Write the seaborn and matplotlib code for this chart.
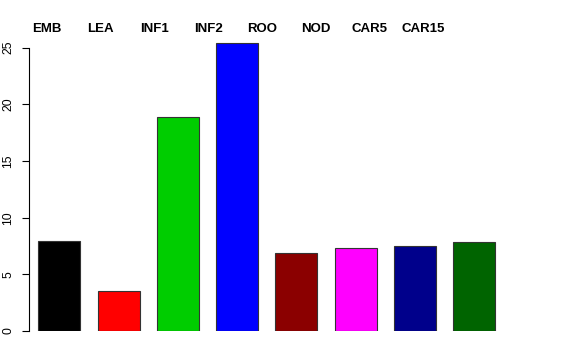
import matplotlib
matplotlib.use("Agg")
import matplotlib.pyplot as plt
import seaborn as sns
import pandas as pd

categories = ["EMB", "LEA", "INF1", "INF2", "ROO", "NOD", "CAR5", "CAR15"]
values = [7.93, 3.55, 18.9, 25.4, 6.9, 7.29, 7.46, 7.87]
colors = ["#000000", "#FF0000", "#00CD00", "#0000FF", "#8B0000", "#FF00FF", "#00008B", "#006400"]
yticks = [0, 5, 10, 15, 20, 25]

sns.set_style("white")
plt.rcParams['font.family'] = ['Liberation Sans', 'DejaVu Sans']
plt.rcParams['text.color'] = 'black'
plt.rcParams['ytick.color'] = 'black'
plt.rcParams['ytick.labelcolor'] = 'black'

W, H = 576, 360
fig = plt.figure(figsize=(5.76, 3.6), dpi=100)

left_px, bottom_px = 29, 29
right_px, top_px = 506, 330
ax = fig.add_axes([left_px / W, bottom_px / H, (right_px - left_px) / W, (top_px - bottom_px) / H])

df = pd.DataFrame({"cat": categories, "val": values})
sns.barplot(data=df, x="cat", y="val", hue="cat", palette=colors, legend=False,
            width=0.709, edgecolor="#333333", linewidth=0.8, ax=ax, saturation=1)

px_per_unit_x = 59.24
c0 = 59.35
ax.set_xlim((left_px - c0) / px_per_unit_x, (right_px - c0) / px_per_unit_x)
px_per_unit_y = 11.33
ax.set_ylim(0, (top_px - bottom_px) / px_per_unit_y)

ax.set_xlabel("")
ax.set_ylabel("")
ax.set_xticks([])
ax.set_yticks(yticks)
ax.set_yticklabels([str(t) for t in yticks], rotation=90, va="center", fontsize=8.8, color="black")
for s in ["top", "right", "bottom"]:
    ax.spines[s].set_visible(False)
ax.spines["left"].set_bounds(0, 25)
ax.spines["left"].set_color("#000000")
ax.spines["left"].set_linewidth(0.8)
ax.tick_params(axis="y", direction="out", length=5.4, width=0.8, color="#000000", pad=5, left=True)
ax.patch.set_alpha(0)

for i, c in enumerate(categories):
    xc = 47 + i * 53.7
    fig.text(xc / W, (H - 29.3) / H, c, ha="center", va="center", fontsize=9.5,
             fontweight="bold", color="black")

fig.savefig("out.png", dpi=100)
